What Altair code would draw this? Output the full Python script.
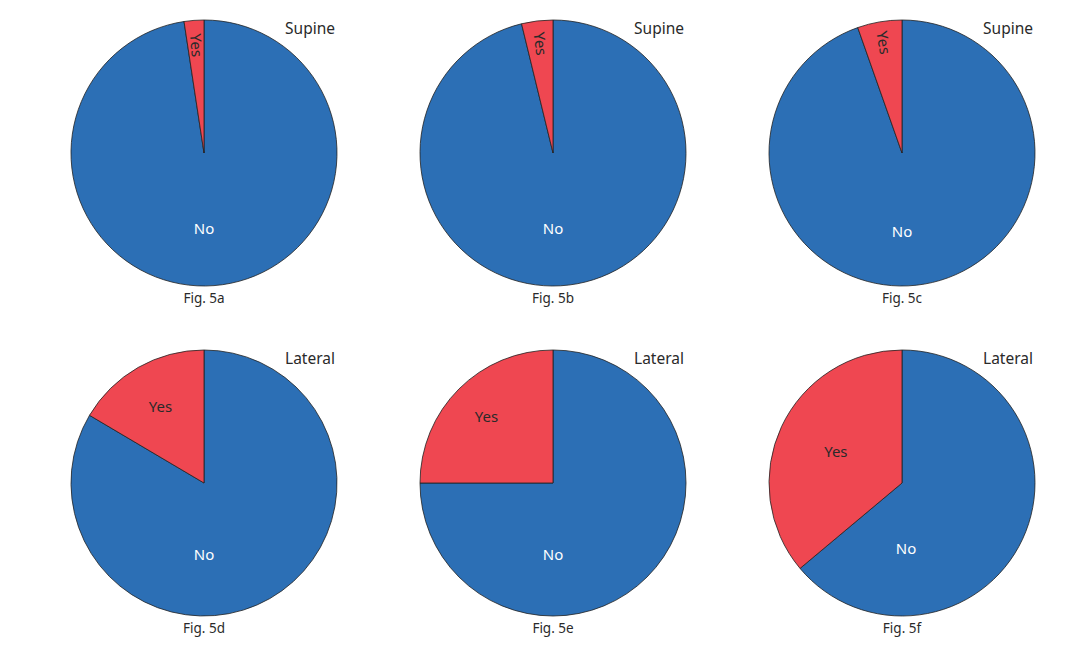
import altair as alt
import pandas as pd

# ---- data ----
fig_labels = ["Fig. 5a", "Fig. 5b", "Fig. 5c", "Fig. 5d", "Fig. 5e", "Fig. 5f"]
positions = ["Supine", "Supine", "Supine", "Lateral", "Lateral", "Lateral"]
categories = ["No", "Yes"]
yes_pct = [2.4, 3.8, 5.4, 16.5, 25.0, 36.1]

# ---- layout / style ----
COLORS = ["#2c6fb5", "#ef4751"]
FONT = "Noto Sans"
PANEL_W, PANEL_H = [349, 349, 350], [330, 302]
CX, CY, R = 196, 145, 133
yes_label_radius = [108, 110, 112, 88, 94, 73]
no_label_offset = [(0, 76), (0, 76), (0, 79), (0, 72), (0, 72), (4, 66)]


def panel(i):
    p = yes_pct[i]
    df = pd.DataFrame({
        "category": categories,
        "value": [100 - p, p],
        "order": [0, 1],
        "label": ["", "Yes"],
    })
    base = alt.Chart(df).encode(
        theta=alt.Theta("value:Q", stack=True),
        order=alt.Order("order:Q"),
        x=alt.value(CX),
        y=alt.value(CY),
    )
    arcs = base.mark_arc(radius=R, stroke="#222222", strokeWidth=0.8).encode(
        color=alt.Color("category:N",
                        scale=alt.Scale(domain=categories, range=COLORS),
                        legend=None)
    )
    mid_deg = -p * 360 / 100 / 2
    angle = 90 + mid_deg if i < 3 else 0
    yes_text = base.mark_text(
        radius=yes_label_radius[i], font=FONT, fontSize=15, color="#2a2a2a",
        angle=round(angle % 360, 2), align="center", baseline="middle"
    ).encode(text="label:N")

    dx, dy = no_label_offset[i]
    no_text = alt.Chart(pd.DataFrame({"t": ["No"]})).mark_text(
        font=FONT, fontSize=15, color="white", align="center", baseline="middle"
    ).encode(text="t:N", x=alt.value(CX + dx), y=alt.value(CY + dy))

    pos_text = alt.Chart(pd.DataFrame({"t": [positions[i]]})).mark_text(
        font=FONT, fontSize=15.5, color="#2a2a2a", align="right", baseline="middle"
    ).encode(text="t:N", x=alt.value(CX + 131), y=alt.value(21))

    fig_text = alt.Chart(pd.DataFrame({"t": [fig_labels[i]]})).mark_text(
        font=FONT, fontSize=13.5, color="#2a2a2a", align="center", baseline="middle"
    ).encode(text="t:N", x=alt.value(CX), y=alt.value(291))

    return alt.layer(arcs, yes_text, no_text, pos_text, fig_text).properties(
        width=PANEL_W[i % 3], height=PANEL_H[i // 3]
    )


rows = [alt.hconcat(*[panel(r * 3 + c) for c in range(3)], spacing=0) for r in range(2)]
chart = alt.vconcat(*rows, spacing=0).properties(
    padding=0, background="white"
).configure_view(strokeWidth=0, stroke="transparent")

chart.save("out.html", embed_options={"renderer": "svg", "actions": False})
